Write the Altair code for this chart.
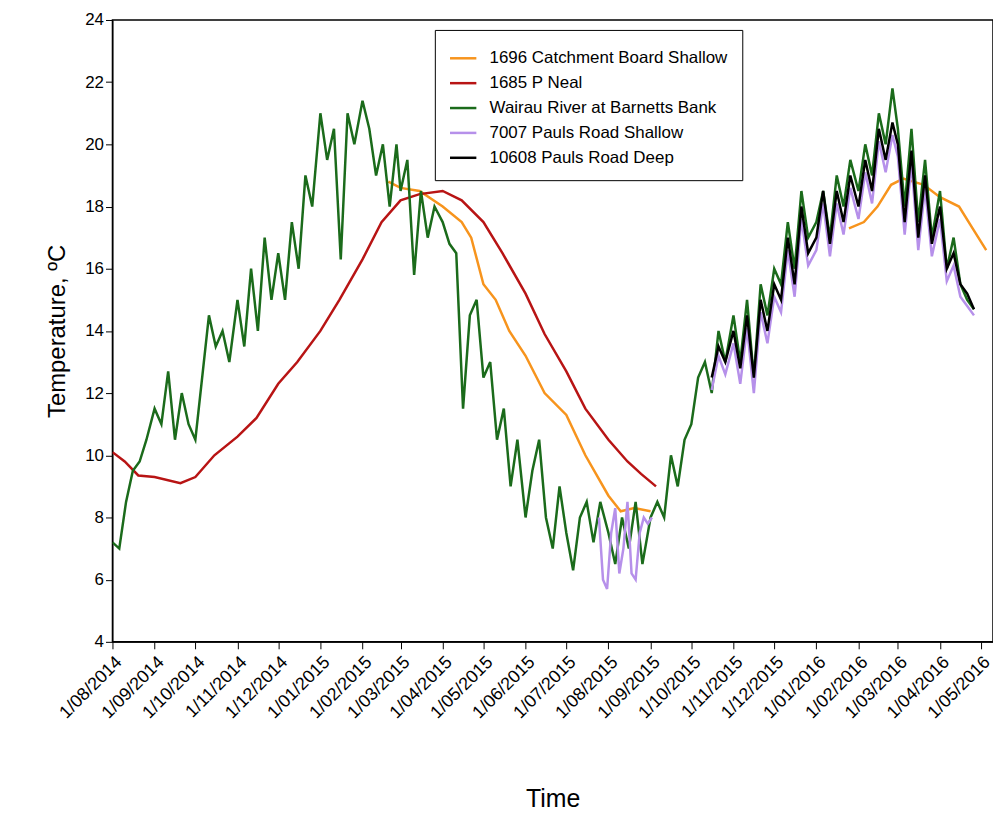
import altair as alt
import pandas as pd

SERIES = [
    "1696 Catchment Board Shallow",
    "1685 P Neal",
    "Wairau River at Barnetts Bank",
    "7007 Pauls Road Shallow",
    "10608 Pauls Road Deep",
]
COLORS = ["#f7941d", "#b81414", "#1b6b1b", "#b690ea", "#000000"]
WIDTHS = [2.5, 2.5, 1.3, 1.3, 1.3]

# Wairau River: months x sample days 1,6,11,16,21,26
wairau_months = pd.period_range("2014-08", "2016-04", freq="M")
day_offsets = [1, 6, 11, 16, 21, 26]
wairau_vals = [
    7.2, 7.0, 8.5, 9.5, 9.8, 10.5,
    11.5, 11.0, 12.7, 10.5, 12.0, 11.0,
    10.5, 12.5, 14.5, 13.5, 14.0, 13.0,
    15.0, 13.5, 16.0, 14.0, 17.0, 15.0,
    16.5, 15.0, 17.5, 16.0, 19.0, 18.0,
    21.0, 19.5, 20.5, 16.3, 21.0, 20.0,
    21.4, 20.5, 19.0, 20.0, 18.0, 20.0,
    18.5, 19.5, 15.8, 18.5, 17.0, 18.0,
    17.5, 16.8, 16.5, 11.5, 14.5, 15.0,
    12.5, 13.0, 10.5, 11.5, 9.0, 10.5,
    8.0, 9.5, 10.5, 8.0, 7.0, 9.0,
    7.5, 6.3, 8.0, 8.5, 7.2, 8.5,
    7.5, 6.5, 8.0, 7.0, 8.5, 6.5,
    8.0, 8.5, 8.0, 10.0, 9.0, 10.5,
    11.0, 12.5, 13.0, 12.0, 14.0, 13.0,
    14.5, 13.0, 15.0, 12.5, 15.5, 14.5,
    16.0, 15.5, 17.5, 16.0, 18.5, 17.0,
    17.5, 18.5, 17.0, 19.0, 18.0, 19.5,
    18.5, 20.0, 19.0, 21.0, 20.0, 21.8,
    20.5, 18.0, 20.5, 17.5, 19.5, 17.0,
    18.5, 16.0, 17.0, 15.5, 15.0, 14.7,
]

neal_dates = [
    "2014-08-01", "2014-08-10", "2014-08-20", "2014-09-01", "2014-09-20",
    "2014-10-01", "2014-10-15", "2014-11-01", "2014-11-15", "2014-12-01",
    "2014-12-15", "2015-01-01", "2015-01-15", "2015-02-01", "2015-02-15",
    "2015-03-01", "2015-03-15", "2015-04-01", "2015-04-15", "2015-05-01",
    "2015-05-15", "2015-06-01", "2015-06-15", "2015-07-01", "2015-07-15",
    "2015-08-01", "2015-08-15", "2015-08-25", "2015-09-05",
]
neal_vals = [
    10.1, 9.8, 9.35, 9.3, 9.1, 9.3, 10.0, 10.6, 11.2, 12.3,
    13.0, 14.0, 15.0, 16.3, 17.5, 18.2, 18.4, 18.5, 18.2, 17.5,
    16.5, 15.2, 13.9, 12.7, 11.5, 10.5, 9.8, 9.4, 9.0,
]

catch_dates_1 = [
    "2015-02-20", "2015-03-01", "2015-03-15", "2015-04-01", "2015-04-15",
    "2015-04-22", "2015-05-01", "2015-05-10", "2015-05-20", "2015-06-01",
    "2015-06-15", "2015-07-01", "2015-07-15", "2015-08-01", "2015-08-10",
    "2015-08-20", "2015-09-01",
]
catch_vals_1 = [18.8, 18.6, 18.5, 18.0, 17.5, 17.0, 15.5, 15.0, 14.0, 13.2,
                12.0, 11.3, 10.0, 8.7, 8.2, 8.3, 8.2]
catch_dates_2 = [
    "2016-01-25", "2016-02-05", "2016-02-15", "2016-02-25", "2016-03-05",
    "2016-03-20", "2016-04-01", "2016-04-15", "2016-04-25", "2016-05-05",
]
catch_vals_2 = [17.3, 17.5, 18.0, 18.7, 18.9, 18.7, 18.3, 18.0, 17.3, 16.6]

shallow_dates_1 = pd.date_range("2015-07-25", periods=14, freq="3D")
shallow_vals_1 = [8.0, 6.0, 5.7, 7.5, 8.3, 6.2, 7.0, 8.5, 6.2, 6.0, 7.5, 8.0, 7.8, 8.0]

deep_months = pd.period_range("2015-10", "2016-04", freq="M")
deep_vals = [
    12.5, 13.5, 13.0,
    14.0, 12.8, 14.5, 12.5, 15.0, 14.0,
    15.5, 15.0, 17.0, 15.5, 18.0, 16.5,
    17.0, 18.5, 16.8, 18.5, 17.5, 19.0,
    18.0, 19.5, 18.5, 20.5, 19.5, 20.7,
    20.0, 17.5, 19.8, 17.0, 19.0, 16.8,
    18.0, 16.0, 16.5, 15.5, 15.2, 14.7,
]
shallow_vals_2 = [
    12.1, 13.2, 12.6,
    13.6, 12.3, 14.1, 12.0, 14.6, 13.6,
    15.1, 14.6, 16.6, 15.1, 17.6, 16.1,
    16.6, 18.1, 16.4, 18.1, 17.1, 18.6,
    17.6, 19.1, 18.1, 20.1, 19.1, 20.3,
    19.6, 17.1, 19.4, 16.6, 18.6, 16.4,
    17.6, 15.6, 16.1, 15.1, 14.8, 14.5,
]


def month_dates(months, first_day_index=0):
    out = []
    for m in months:
        for d in day_offsets:
            out.append(pd.Timestamp(year=m.year, month=m.month, day=d))
    return out[first_day_index:]


rows = []


def add(name, seg, dates, vals):
    for d, v in zip(dates, vals):
        rows.append({"date": pd.Timestamp(d).strftime("%Y-%m-%d"), "temp": v,
                     "series": name, "seg": f"{name}-{seg}"})


add(SERIES[0], 1, catch_dates_1, catch_vals_1)
add(SERIES[0], 2, catch_dates_2, catch_vals_2)
add(SERIES[1], 1, neal_dates, neal_vals)
add(SERIES[2], 1, month_dates(wairau_months), wairau_vals)
add(SERIES[3], 1, shallow_dates_1, shallow_vals_1)
add(SERIES[3], 2, month_dates(deep_months, 3), shallow_vals_2)
add(SERIES[4], 1, month_dates(deep_months, 3), deep_vals)
df = pd.DataFrame(rows)

tick_dates = pd.date_range("2014-08-01", "2016-05-01", freq="MS")
tick_values = [alt.DateTime(year=t.year, month=t.month, date=1, utc=True) for t in tick_dates]

chart = (
    alt.Chart(df)
    .mark_line(clip=True)
    .encode(
        x=alt.X(
            "date:T",
            title="Time",
            scale=alt.Scale(type="utc", domain=[
                alt.DateTime(year=2014, month=8, date=1, utc=True),
                alt.DateTime(year=2016, month=5, date=10, utc=True)]),
            axis=alt.Axis(values=tick_values, labelExpr="utcFormat(datum.value, '%-d/%m/%Y')",
                          labelAngle=-45, labelAlign="right", labelBaseline="top",
                          labelOverlap=False, labelBound=False, labelFlush=False,
                          labelFontSize=18, titleFontSize=25, titleFontWeight="normal",
                          titlePadding=65, grid=False, tickColor="black", domainColor="black",
                          labelColor="black", tickSize=7, labelPadding=4),
        ),
        y=alt.Y(
            "temp:Q",
            title="Temperature, ºC",
            scale=alt.Scale(domain=[4, 24], nice=False),
            axis=alt.Axis(values=list(range(4, 25, 2)), labelFontSize=17, titleFontSize=24,
                          titleFontWeight="normal", titlePadding=15, grid=False,
                          tickColor="black", domainColor="black", labelColor="black", tickSize=7),
        ),
        color=alt.Color(
            "series:N",
            scale=alt.Scale(domain=SERIES, range=COLORS),
            legend=alt.Legend(title=None, orient="none", legendX=324, legendY=10,
                              symbolType="stroke", symbolStrokeWidth=3, symbolSize=700,
                              labelFontSize=17, labelColor="black", labelLimit=0,
                              fillColor="white", strokeColor="black", padding=14,
                              rowPadding=2, labelOffset=12),
        ),
        strokeWidth=alt.StrokeWidth("series:N", scale=alt.Scale(domain=SERIES, range=WIDTHS), legend=None),
        detail="seg:N",
        order=alt.Order("date:T"),
    )
    .properties(
        width=885,
        height=625,
        autosize=alt.AutoSizeParams(type="none"),
        padding={"left": 105, "top": 10, "right": 0, "bottom": 172},
    )
    .configure(font="Liberation Sans")
    .configure_view(stroke="black", strokeWidth=1.5)
)

chart.save("out.html", embed_options={"renderer": "svg", "actions": False})
